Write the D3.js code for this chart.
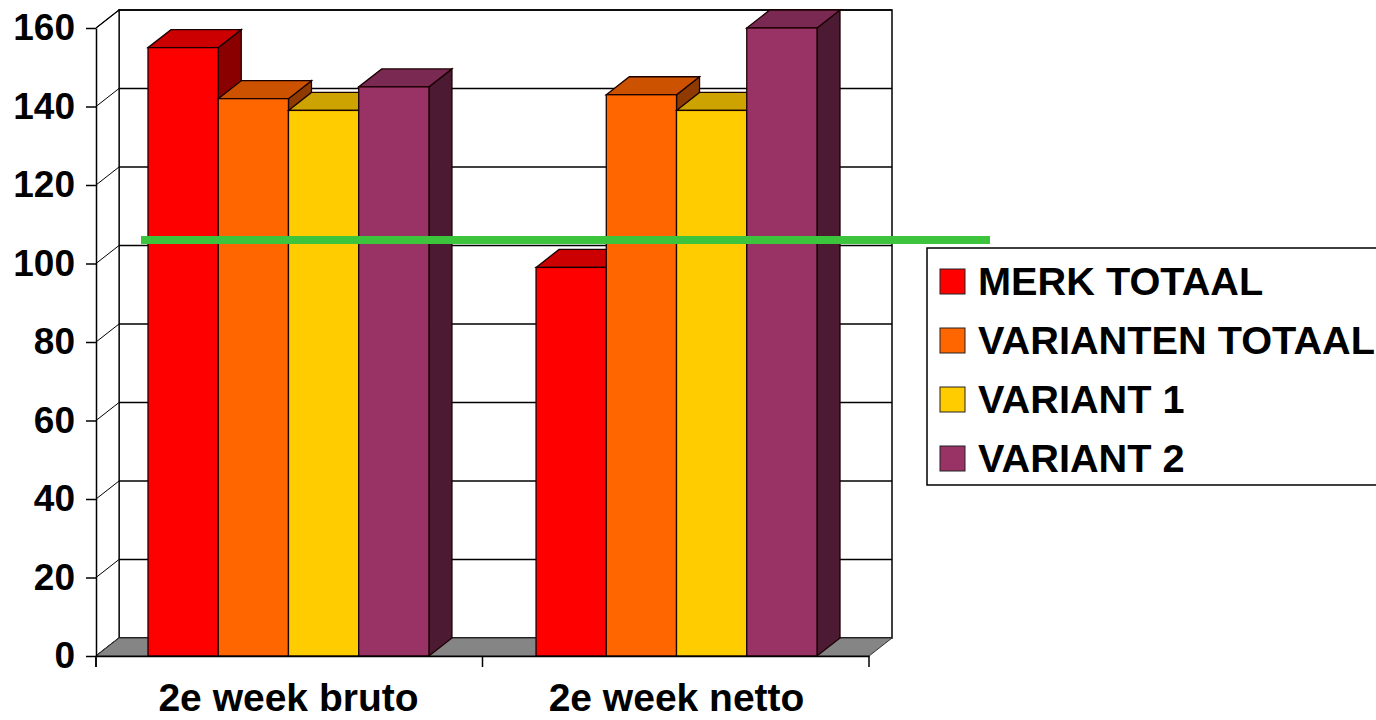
<!DOCTYPE html>
<html>
<head>
<meta charset="utf-8">
<script src="https://cdn.jsdelivr.net/npm/d3@7"></script>
<style>
  html, body { margin: 0; padding: 0; background: #fff; }
  svg { display: block; }
  text { font-family: "Liberation Sans", Arial, sans-serif; font-weight: bold; fill: #000; }
</style>
</head>
<body>
<svg id="chart" width="1376" height="720"></svg>
<script>
// ---- data ----
const categories = ["2e week bruto", "2e week netto"];
const series = ["MERK TOTAAL", "VARIANTEN TOTAAL", "VARIANT 1", "VARIANT 2"];
const merkTotaal      = [155, 99];
const variantenTotaal = [142, 143];
const variant1        = [139, 139];
const variant2        = [145, 160];
const yTicks = [0, 20, 40, 60, 80, 100, 120, 140, 160];
const referenceValue = 106;

const seriesValues = [merkTotaal, variantenTotaal, variant1, variant2];
const frontColors = ["#FF0000", "#FF6600", "#FFCC00", "#993366"];
const topColors   = ["#CC0000", "#CC5200", "#CCA300", "#7A2952"];
const sideColors  = ["#8A0000", "#8F3A00", "#8F7200", "#4D1A33"];

const svg = d3.select("#chart");

// depth of the oblique projection
const DX = 23, DY = 18;

const y = d3.scaleLinear().domain([0, 160]).range([656, 28]);
const x0 = d3.scaleBand().domain(categories).range([96, 869])
  .paddingInner(0.276).paddingOuter(0.134);
const x1 = d3.scaleBand().domain(series).range([0, x0.bandwidth()]);

const xL = x0.range()[0], xR = x0.range()[1];
const y0 = y(0), yTop = y(160);

// ---- walls ----
const walls = svg.append("g");
walls.append("rect")
  .attr("x", xL + DX).attr("y", yTop - DY)
  .attr("width", xR - xL).attr("height", y0 - yTop)
  .attr("fill", "#fff").attr("stroke", "#000").attr("stroke-width", 1.5);
walls.append("path")
  .attr("d", `M${xL},${yTop} L${xL + DX},${yTop - DY} L${xL + DX},${y0 - DY} L${xL},${y0}`)
  .attr("fill", "#fff").attr("stroke", "#000").attr("stroke-width", 1.2);
yTicks.forEach(v => {
  walls.append("line")
    .attr("x1", xL + DX).attr("x2", xR + DX)
    .attr("y1", y(v) - DY).attr("y2", y(v) - DY)
    .attr("stroke", "#000").attr("stroke-width", 1.3);
  walls.append("line")
    .attr("x1", xL).attr("x2", xL + DX)
    .attr("y1", y(v)).attr("y2", y(v) - DY)
    .attr("stroke", "#000").attr("stroke-width", 1);
});
walls.append("path")
  .attr("d", `M${xL},${y0} L${xR},${y0} L${xR + DX},${y0 - DY} L${xL + DX},${y0 - DY} Z`)
  .attr("fill", "#858585").attr("stroke", "#333").attr("stroke-width", 1);

// ---- bars ----
const barsG = svg.append("g");
categories.forEach((cat, ci) => {
  series.forEach((s, si) => {
    const v = seriesValues[si][ci];
    const bx = x0(cat) + x1(s);
    const bw = x1.bandwidth();
    const by = y(v);
    const g = barsG.append("g");
    g.append("path")
      .attr("d", `M${bx + bw},${by} L${bx + bw + DX},${by - DY} L${bx + bw + DX},${y0 - DY} L${bx + bw},${y0} Z`)
      .attr("fill", sideColors[si]).attr("stroke", "#1a0000").attr("stroke-width", 1.3);
    g.append("path")
      .attr("d", `M${bx},${by} L${bx + DX},${by - DY} L${bx + bw + DX},${by - DY} L${bx + bw},${by} Z`)
      .attr("fill", topColors[si]).attr("stroke", "#1a0000").attr("stroke-width", 1.3);
    g.append("rect")
      .attr("x", bx).attr("y", by).attr("width", bw).attr("height", y0 - by)
      .attr("fill", frontColors[si]).attr("stroke", "#1a0000").attr("stroke-width", 1.3);
  });
});

// ---- y axis ----
const yAxis = svg.append("g")
  .attr("transform", `translate(${xL},0)`)
  .call(d3.axisLeft(y).tickValues(yTicks).tickSize(10).tickSizeOuter(0).tickPadding(11));
yAxis.select(".domain").attr("stroke", "#000").attr("stroke-width", 1.5);
yAxis.selectAll(".tick line").attr("stroke", "#000").attr("stroke-width", 1.5);
yAxis.selectAll(".tick text")
  .style("font-family", '"Liberation Sans", Arial, sans-serif')
  .style("font-weight", "bold").style("font-size", "37px").attr("fill", "#000");
svg.append("line").attr("x1", xL).attr("x2", xL).attr("y1", y0).attr("y2", y0 + 11)
  .attr("stroke", "#000").attr("stroke-width", 1.5);

// ---- x axis ----
const xAxis = svg.append("g")
  .attr("transform", `translate(0,${y0})`)
  .call(d3.axisBottom(x0).tickSize(0).tickSizeOuter(0).tickPadding(0));
xAxis.select(".domain").attr("stroke", "#000").attr("stroke-width", 1.5);
xAxis.selectAll(".tick text")
  .attr("y", 55).attr("dy", 0)
  .style("font-family", '"Liberation Sans", Arial, sans-serif')
  .style("font-weight", "bold").style("font-size", "39px").attr("fill", "#000");
const boundaries = [xL, ...categories.slice(1).map(c => x0(c) - x0.step() * x0.paddingInner() / 2), xR];
boundaries.forEach(bx => {
  svg.append("line").attr("x1", bx).attr("x2", bx).attr("y1", y0).attr("y2", y0 + 11)
    .attr("stroke", "#000").attr("stroke-width", 1.5);
});

// ---- reference line ----
svg.append("line")
  .attr("x1", 141).attr("x2", 990)
  .attr("y1", y(referenceValue)).attr("y2", y(referenceValue))
  .attr("stroke", "#3DC43D").attr("stroke-width", 8);

// ---- legend ----
const legend = svg.append("g");
legend.append("rect")
  .attr("x", 927).attr("y", 248).attr("width", 460).attr("height", 237)
  .attr("fill", "#fff").attr("stroke", "#000").attr("stroke-width", 1.5);
series.forEach((s, i) => {
  const base = 295 + i * 59;
  legend.append("rect")
    .attr("x", 940).attr("y", base - 26).attr("width", 25).attr("height", 25)
    .attr("fill", frontColors[i]).attr("stroke", "#222").attr("stroke-width", 1);
  legend.append("text")
    .attr("transform", `translate(978,${base}) scale(1.045,1)`)
    .style("font-size", "38px")
    .text(s);
});
</script>
</body>
</html>
